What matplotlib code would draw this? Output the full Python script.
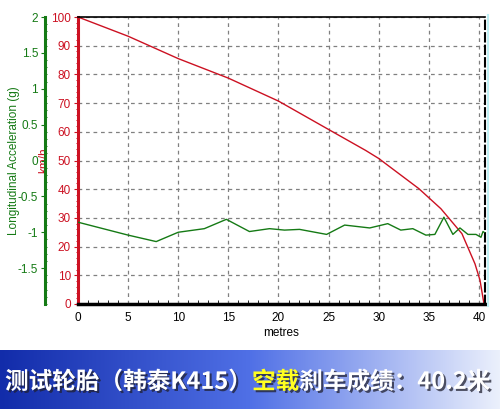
import numpy as np
import matplotlib
matplotlib.use('Agg')
import matplotlib.pyplot as plt
from matplotlib.ticker import MultipleLocator, FixedLocator
from matplotlib import patheffects as pe
from matplotlib.lines import Line2D

plt.rcParams['font.family'] = ['Liberation Sans', 'DejaVu Sans']

# speed (km/h) against distance (m)
dist_speed = [0, 5, 10, 15, 20, 25, 28.7, 30, 34, 36.2, 38.3, 39.6, 40.1, 40.5]
speed = [100, 93.3, 85.5, 78.7, 70.7, 60.8, 53.5, 50.7, 40.2, 33.2, 24.5, 14, 8.3, 0]

# longitudinal acceleration (g) against distance (m)
dist_acc = [0, 5, 7.8, 10, 12.6, 14.8, 17.1, 19.1, 20.6, 22.1, 24.8, 26.6, 29.1,
            30.9, 32.2, 33.4, 34.7, 35.6, 36.5, 37.4, 38.1, 38.9, 39.7, 40.2, 40.4, 40.5]
accel = [-0.86, -1.04, -1.13, -1.0, -0.95, -0.82, -0.99, -0.95, -0.97, -0.96, -1.03,
         -0.90, -0.94, -0.88, -0.97, -0.95, -1.04, -1.03, -0.79, -1.03, -0.94, -1.03,
         -1.03, -1.07, -0.99, -1.0]

x_ticks = [0, 5, 10, 15, 20, 25, 30, 35, 40]
speed_ticks = [0, 10, 20, 30, 40, 50, 60, 70, 80, 90, 100]
acc_ticks = [-1.5, -1, -0.5, 0, 0.5, 1, 1.5, 2]
acc_labels = ['-1.5', '-1', '-0.5', '0', '0.5', '1', '1.5', '2']

title_parts = ['测试轮胎（韩泰K415）', '空载', '刹车成绩：40.2米']

red = '#cc1122'
green = '#157a15'

fig = plt.figure(figsize=(5, 4.09), dpi=100)
W, H = 500, 409
ax = fig.add_axes([78 / W, 1 - 304 / H, (485 - 78) / W, (304 - 17) / H])

ax.plot(dist_speed, speed, color=red, lw=1)
ax.set_xlim(0, 40.6)
ax.set_ylim(0, 100)
ax.xaxis.set_major_locator(FixedLocator(x_ticks))
ax.xaxis.set_minor_locator(MultipleLocator(1))
ax.yaxis.set_major_locator(FixedLocator(speed_ticks))
ax.yaxis.set_minor_locator(MultipleLocator(2))
ax.grid(True, which='major', color='#808080', ls=(0, (3, 3)), lw=0.9)
ax.tick_params(axis='x', which='major', length=0, labelsize=8.5, pad=6)
ax.tick_params(axis='x', which='minor', direction='in', length=3)
ax.tick_params(axis='y', which='major', colors=red, length=3, labelsize=8.5, pad=2)
ax.tick_params(axis='y', which='minor', colors=red, length=1.5, width=0.7)
ax.set_xlabel('metres', fontsize=8.5, labelpad=2)
ax.set_ylabel('km/h', color=red, fontsize=8.5)
ax.yaxis.set_label_coords(-0.068, 0.5)
ax.spines['left'].set_color(red)
ax.spines['left'].set_linewidth(2.2)
ax.spines['bottom'].set_linewidth(2.5)
ax.spines['top'].set_linewidth(1.2)
ax.spines['right'].set_linestyle((0, (4, 2)))
ax.spines['right'].set_linewidth(1.5)

ax2 = ax.twinx()
ax2.plot(dist_acc, accel, color=green, lw=1)
ax2.set_ylim(-2, 2)
ax2.spines['left'].set_position(('axes', -33 / 407))
ax2.spines['left'].set_visible(True)
ax2.spines['left'].set_color(green)
ax2.spines['left'].set_linewidth(2.2)
ax2.spines['right'].set_visible(False)
ax2.spines['top'].set_visible(False)
ax2.spines['bottom'].set_visible(False)
ax2.yaxis.set_ticks_position('left')
ax2.yaxis.set_label_position('left')
ax2.yaxis.set_major_locator(FixedLocator(acc_ticks))
ax2.set_yticklabels(acc_labels)
ax2.yaxis.set_minor_locator(MultipleLocator(0.1))
ax2.tick_params(axis='y', which='major', colors=green, length=3, labelsize=8.5, pad=2)
ax2.tick_params(axis='y', which='minor', colors=green, direction='in', length=1.5, width=0.7)
ax2.set_ylabel('Longitudinal Acceleration (g)', color=green, fontsize=8.5)
ax2.yaxis.set_label_coords(-58 / 407, 0.5)

# thin cyan edge to the right of the chart
fig.add_artist(Line2D([487.5 / W, 487.5 / W], [1 - 306 / H, 1 - 15 / H], color='#c0f0f4', lw=1.5))

# blue gradient banner
bax = fig.add_axes([0, 0, 1, 59 / H])
grad = np.linspace(0, 1, 256)
c0 = np.array([18, 44, 170]) / 255
c1 = np.array([80, 112, 230]) / 255
c2 = np.array([235, 240, 252]) / 255
cols = np.where(grad[:, None] < 0.5,
                c0 + (c1 - c0) * (grad[:, None] / 0.5),
                c1 + (c2 - c1) * ((grad[:, None] - 0.5) / 0.5))
bax.imshow(cols[None, :, :], aspect='auto', extent=[0, 1, 0, 1])
bax.set_xlim(0, 1)
bax.set_ylim(0, 1)
bax.axis('off')

shadow = [pe.withSimplePatchShadow(offset=(1.5, -1.5), shadow_rgbFace='#202030', alpha=0.75)]
fam = ['Noto Sans CJK SC', 'DejaVu Sans']
t = bax.text(5 / W, 0.46, title_parts[0], color='white', fontsize=17, fontweight='heavy',
             family=fam, va='center', ha='left', path_effects=shadow)
t = bax.annotate(title_parts[1], xy=(1, 0.5), xycoords=t, va='center', ha='left',
                 color='#ffff20', fontsize=17, fontweight='heavy', family=fam, path_effects=shadow)
bax.annotate(title_parts[2], xy=(1, 0.5), xycoords=t, va='center', ha='left',
             color='white', fontsize=17, fontweight='heavy', family=fam, path_effects=shadow)

fig.savefig('out.png', dpi=100)
